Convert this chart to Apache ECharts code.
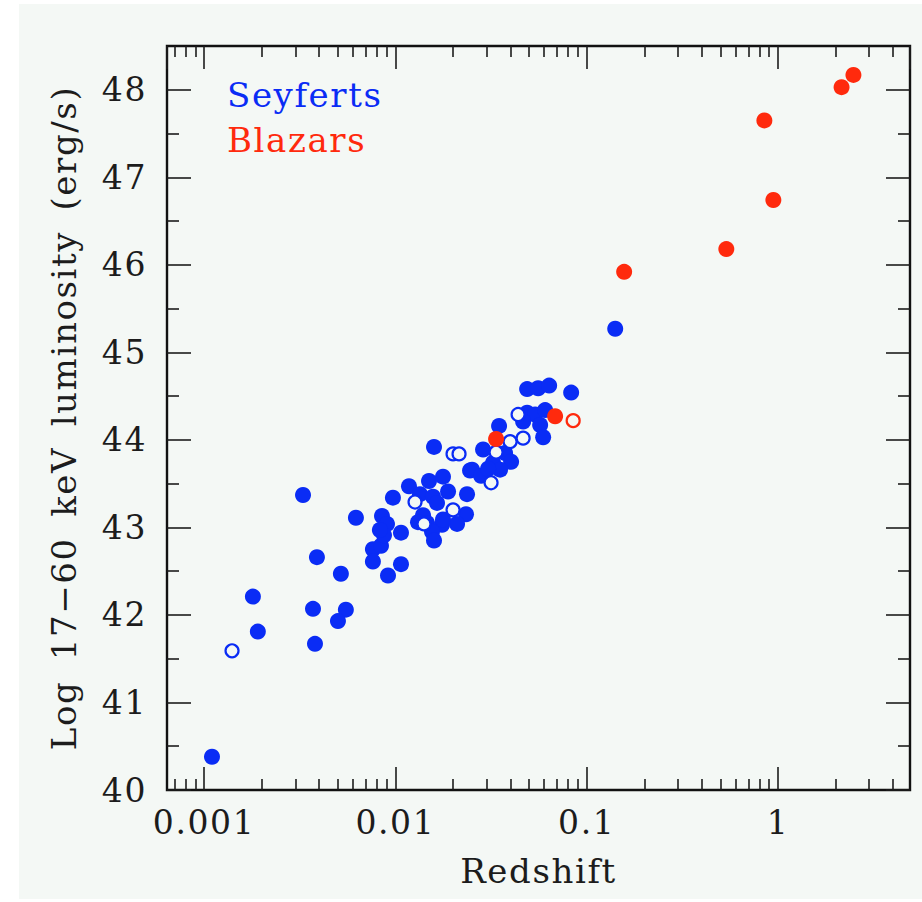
<!DOCTYPE html>
<html>
<head>
<meta charset="utf-8">
<script src="https://cdn.jsdelivr.net/npm/echarts@6/dist/echarts.min.js"></script>
<style>
  html, body { margin: 0; padding: 0; background: #ffffff; }
  #panel { position: absolute; left: 19px; top: 4px; width: 903px; height: 895px; background: #f4f8f5; }
  #chart { position: absolute; left: 0; top: 0; width: 922px; height: 902px; }
  /* wide, evenly spaced lettering for every label */
  #chart text { letter-spacing: 1.6px; word-spacing: 8px; }
</style>
</head>
<body>
<div id="panel"></div>
<div id="chart"></div>
<script>
// Seyferts, solid symbols: redshift and log 17-60 keV luminosity (erg/s)
const seyfertSolidZ = [
  0.00110, 0.00180, 0.00191, 0.00329, 0.00371, 0.00389, 0.00380, 0.00519, 0.00551, 0.00501,
  0.00622, 0.00763, 0.00841, 0.00763, 0.01070, 0.00915, 0.00971, 0.01178, 0.00851, 0.00904,
  0.00872, 0.01070, 0.01592, 0.01499, 0.01774, 0.01885, 0.02369, 0.02457, 0.01345, 0.01573,
  0.01651, 0.01395, 0.02340, 0.02101, 0.01463, 0.01753, 0.01554, 0.01592, 0.01313, 0.01774,
  0.02874, 0.03484, 0.03746, 0.04026, 0.03241, 0.03526, 0.02517, 0.02805, 0.03052, 0.04884,
  0.05576, 0.06366, 0.08296, 0.04884, 0.05378, 0.06065, 0.04654, 0.05712, 0.05922, 0.1410,
  0.00830
];
const seyfertSolidL = [
  40.38, 42.21, 41.81, 43.37, 42.07, 42.66, 41.67, 42.47, 42.06, 41.93,
  43.11, 42.75, 42.79, 42.61, 42.58, 42.45, 43.34, 43.47, 43.13, 43.04,
  42.91, 42.94, 43.92, 43.53, 43.58, 43.41, 43.38, 43.65, 43.38, 43.35,
  43.28, 43.14, 43.15, 43.04, 43.05, 43.03, 42.95, 42.85, 43.06, 43.09,
  43.89, 44.16, 43.85, 43.75, 43.74, 43.66, 43.66, 43.59, 43.67, 44.58,
  44.59, 44.62, 44.54, 44.31, 44.29, 44.34, 44.21, 44.17, 44.03, 45.27,
  42.97
];

// Seyferts, open symbols
const seyfertOpenZ = [0.00140, 0.02002, 0.02152, 0.03978, 0.04654, 0.04381, 0.03361, 0.03164, 0.02002, 0.01267, 0.01411];
const seyfertOpenL = [41.59, 43.84, 43.84, 43.98, 44.02, 44.29, 43.86, 43.51, 43.20, 43.29, 43.04];

// Blazars, solid symbols
const blazarSolidZ = [0.0336, 0.0684, 0.157, 0.537, 0.849, 0.946, 2.15, 2.48];
const blazarSolidL = [44.01, 44.27, 45.92, 46.18, 47.65, 46.74, 48.03, 48.17];

// Blazars, open symbols
const blazarOpenZ = [0.085];
const blazarOpenL = [44.22];

// Axis ranges and tick values
const xRange = [0.00064, 4.9];
const yRange = [40, 48.5];
const xMinorTicks = [0.0007, 0.0008, 0.0009,
  0.002, 0.003, 0.004, 0.005, 0.006, 0.007, 0.008, 0.009,
  0.02, 0.03, 0.04, 0.05, 0.06, 0.07, 0.08, 0.09,
  0.2, 0.3, 0.4, 0.5, 0.6, 0.7, 0.8, 0.9,
  2, 3, 4];
const yMajorTicks = [40, 41, 42, 43, 44, 45, 46, 47, 48];
const yMinorTicks = [40.5, 41.5, 42.5, 43.5, 44.5, 45.5, 46.5, 47.5];

const BLUE = '#0a2cf5';
const RED = '#ff2a0d';
const INK = '#1c1c1c';
const FONT = 'DejaVu Serif';
const PANEL = '#f4f8f5';

const pairs = (xs, ys) => xs.map((x, i) => [x, ys[i]]);
const log10Range = xRange.map(Math.log10);

const hiddenLabel = { show: false };
const noLine = { show: false };
const noSplit = { show: false };

function majorX(position, withLabels) {
  return {
    type: 'log', logBase: 10, min: xRange[0], max: xRange[1], position: position,
    axisLine: noLine, splitLine: noSplit,
    axisTick: { show: true, inside: true, length: 23, lineStyle: { color: INK, width: 1.6 } },
    axisLabel: withLabels ? {
      show: true, margin: 16, fontSize: 33, fontFamily: FONT, color: INK,
      showMinLabel: false, showMaxLabel: false,
      formatter: v => String(+v.toPrecision(6))
    } : hiddenLabel
  };
}
function minorX(position) {
  return {
    type: 'value', min: log10Range[0], max: log10Range[1], position: position,
    axisLine: noLine, splitLine: noSplit, axisLabel: hiddenLabel,
    axisTick: { show: true, inside: true, length: 11, customValues: xMinorTicks.map(Math.log10),
      lineStyle: { color: INK, width: 1.6 } }
  };
}
function majorY(position, withLabels) {
  return {
    type: 'value', min: yRange[0], max: yRange[1], position: position,
    axisLine: { show: false, onZero: false }, splitLine: noSplit,
    axisTick: { show: true, inside: true, length: 24, customValues: yMajorTicks,
      lineStyle: { color: INK, width: 1.6 } },
    axisLabel: withLabels ? {
      show: true, margin: 20, fontSize: 33, fontFamily: FONT, color: INK, customValues: yMajorTicks
    } : hiddenLabel
  };
}
function minorY(position) {
  return {
    type: 'value', min: yRange[0], max: yRange[1], position: position,
    axisLine: { show: false, onZero: false }, splitLine: noSplit, axisLabel: hiddenLabel,
    axisTick: { show: true, inside: true, length: 12, customValues: yMinorTicks,
      lineStyle: { color: INK, width: 1.6 } }
  };
}

const xAxes = [majorX('bottom', true), minorX('bottom'), majorX('top', false), minorX('top')];
Object.assign(xAxes[0], {
  name: 'Redshift', nameLocation: 'middle', nameGap: 64,
  nameTextStyle: { fontSize: 34, fontFamily: FONT, color: INK }
});
const yAxes = [majorY('left', true), minorY('left'), majorY('right', false), minorY('right')];
Object.assign(yAxes[0], {
  name: 'Log 17\u221260 keV luminosity (erg/s)', nameLocation: 'middle', nameGap: 86,
  nameTextStyle: { fontSize: 34, fontFamily: FONT, color: INK }
});

const chart = echarts.init(document.getElementById('chart'), null, { renderer: 'svg' });
chart.setOption({
  backgroundColor: 'transparent',
  animation: false,
  grid: {
    left: 167, top: 46, right: 12, bottom: 112,
    show: true, borderColor: '#111', borderWidth: 2.4, backgroundColor: 'transparent'
  },
  xAxis: xAxes,
  yAxis: yAxes,
  graphic: [
    { type: 'text', left: 227, top: 78, style: { text: 'Seyferts', fill: BLUE, font: '34px "DejaVu Serif"' } },
    { type: 'text', left: 227, top: 123, style: { text: 'Blazars', fill: RED, font: '34px "DejaVu Serif"' } }
  ],
  series: [
    { name: 'Seyferts', type: 'scatter', xAxisIndex: 0, yAxisIndex: 0, symbol: 'circle', symbolSize: 16,
      itemStyle: { color: BLUE, opacity: 1 }, data: pairs(seyfertSolidZ, seyfertSolidL) },
    { name: 'Seyferts', type: 'scatter', xAxisIndex: 0, yAxisIndex: 0, symbol: 'circle', symbolSize: 13,
      itemStyle: { color: PANEL, borderColor: BLUE, borderWidth: 2.2, opacity: 1 }, data: pairs(seyfertOpenZ, seyfertOpenL) },
    { name: 'Blazars', type: 'scatter', xAxisIndex: 0, yAxisIndex: 0, symbol: 'circle', symbolSize: 16,
      itemStyle: { color: RED, opacity: 1 }, data: pairs(blazarSolidZ, blazarSolidL) },
    { name: 'Blazars', type: 'scatter', xAxisIndex: 0, yAxisIndex: 0, symbol: 'circle', symbolSize: 13,
      itemStyle: { color: PANEL, borderColor: RED, borderWidth: 2.2, opacity: 1 }, data: pairs(blazarOpenZ, blazarOpenL) }
  ]
});
</script>
</body>
</html>
